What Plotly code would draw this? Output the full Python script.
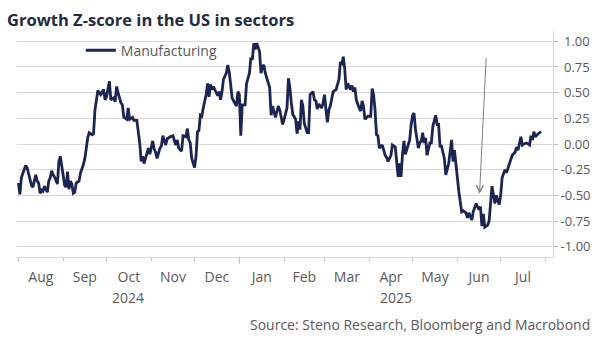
import pandas as pd
import plotly.graph_objects as go

# Manufacturing growth Z-score, US (daily observations)
dates = [
    "2024-08-01", "2024-08-02", "2024-08-03", "2024-08-06", "2024-08-07", "2024-08-09",
    "2024-08-10", "2024-08-11", "2024-08-13", "2024-08-14", "2024-08-15", "2024-08-16",
    "2024-08-17", "2024-08-18", "2024-08-19", "2024-08-21", "2024-08-22", "2024-08-23",
    "2024-08-24", "2024-08-25", "2024-08-26", "2024-08-28", "2024-08-29", "2024-08-30",
    "2024-08-31", "2024-09-02", "2024-09-03", "2024-09-04", "2024-09-05", "2024-09-06",
    "2024-09-07", "2024-09-08", "2024-09-09", "2024-09-10", "2024-09-12", "2024-09-13",
    "2024-09-15", "2024-09-16", "2024-09-18", "2024-09-19", "2024-09-21", "2024-09-22",
    "2024-09-23", "2024-09-25", "2024-09-26", "2024-09-27", "2024-09-29", "2024-09-30",
    "2024-10-01", "2024-10-03", "2024-10-04", "2024-10-06", "2024-10-07", "2024-10-08",
    "2024-10-09", "2024-10-11", "2024-10-12", "2024-10-13", "2024-10-15", "2024-10-16",
    "2024-10-17", "2024-10-19", "2024-10-20", "2024-10-22", "2024-10-24", "2024-10-25",
    "2024-10-26", "2024-10-27", "2024-10-28", "2024-10-30", "2024-10-31", "2024-11-02",
    "2024-11-03", "2024-11-04", "2024-11-05", "2024-11-07", "2024-11-08", "2024-11-09",
    "2024-11-11", "2024-11-12", "2024-11-14", "2024-11-16", "2024-11-18", "2024-11-19",
    "2024-11-20", "2024-11-22", "2024-11-23", "2024-11-25", "2024-11-26", "2024-11-27",
    "2024-11-28", "2024-11-29", "2024-12-01", "2024-12-02", "2024-12-03", "2024-12-04",
    "2024-12-05", "2024-12-06", "2024-12-07", "2024-12-09", "2024-12-10", "2024-12-11",
    "2024-12-12", "2024-12-13", "2024-12-14", "2024-12-16", "2024-12-17", "2024-12-18",
    "2024-12-19", "2024-12-20", "2024-12-21", "2024-12-23", "2024-12-24", "2024-12-25",
    "2024-12-27", "2024-12-28", "2024-12-30", "2024-12-31", "2025-01-01", "2025-01-02",
    "2025-01-03", "2025-01-05", "2025-01-06", "2025-01-08", "2025-01-09", "2025-01-10",
    "2025-01-11", "2025-01-12", "2025-01-13", "2025-01-15", "2025-01-16", "2025-01-17",
    "2025-01-18", "2025-01-19", "2025-01-20", "2025-01-22", "2025-01-23", "2025-01-24",
    "2025-01-26", "2025-01-27", "2025-01-28", "2025-01-29", "2025-01-31", "2025-02-01",
    "2025-02-03", "2025-02-04", "2025-02-05", "2025-02-06", "2025-02-07", "2025-02-09",
    "2025-02-10", "2025-02-11", "2025-02-12", "2025-02-13", "2025-02-14", "2025-02-15",
    "2025-02-17", "2025-02-18", "2025-02-19", "2025-02-21", "2025-02-22", "2025-02-23",
    "2025-02-24", "2025-02-25", "2025-02-27", "2025-02-28", "2025-03-01", "2025-03-02",
    "2025-03-03", "2025-03-04", "2025-03-05", "2025-03-07", "2025-03-09", "2025-03-11",
    "2025-03-12", "2025-03-13", "2025-03-14", "2025-03-15", "2025-03-16", "2025-03-17",
    "2025-03-19", "2025-03-20", "2025-03-21", "2025-03-22", "2025-03-23", "2025-03-25",
    "2025-03-26", "2025-03-27", "2025-03-28", "2025-03-29", "2025-03-31", "2025-04-02",
    "2025-04-03", "2025-04-04", "2025-04-05", "2025-04-06", "2025-04-07", "2025-04-08",
    "2025-04-10", "2025-04-11", "2025-04-12", "2025-04-13", "2025-04-14", "2025-04-16",
    "2025-04-17", "2025-04-19", "2025-04-20", "2025-04-21", "2025-04-22", "2025-04-23",
    "2025-04-24", "2025-04-25", "2025-04-26", "2025-04-28", "2025-04-29", "2025-04-30",
    "2025-05-01", "2025-05-02", "2025-05-03", "2025-05-05", "2025-05-06", "2025-05-07",
    "2025-05-08", "2025-05-09", "2025-05-10", "2025-05-11", "2025-05-13", "2025-05-14",
    "2025-05-15", "2025-05-17", "2025-05-18", "2025-05-19", "2025-05-20", "2025-05-21",
    "2025-05-23", "2025-05-24", "2025-05-26", "2025-05-28", "2025-05-29", "2025-05-30",
    "2025-05-31", "2025-06-01", "2025-06-02", "2025-06-04", "2025-06-05", "2025-06-07",
    "2025-06-08", "2025-06-09", "2025-06-11", "2025-06-12", "2025-06-13", "2025-06-14",
    "2025-06-16", "2025-06-17", "2025-06-18", "2025-06-19", "2025-06-20", "2025-06-22",
    "2025-06-23", "2025-06-24", "2025-06-25", "2025-06-27", "2025-06-28", "2025-06-30",
    "2025-07-01", "2025-07-02", "2025-07-04", "2025-07-05", "2025-07-07", "2025-07-09",
    "2025-07-11", "2025-07-12", "2025-07-13", "2025-07-15", "2025-07-16", "2025-07-17",
    "2025-07-19", "2025-07-21", "2025-07-22", "2025-07-23", "2025-07-24", "2025-07-25",
    "2025-07-27", "2025-07-29",
]

manufacturing = [
    -0.38, -0.49, -0.33, -0.21, -0.23, -0.36,
    -0.40, -0.42, -0.30, -0.36, -0.38, -0.48,
    -0.45, -0.46, -0.41, -0.47, -0.36, -0.33,
    -0.26, -0.30, -0.32, -0.39, -0.17, -0.12,
    -0.22, -0.40, -0.42, -0.27, -0.44, -0.36,
    -0.39, -0.48, -0.47, -0.38, -0.36, -0.28,
    -0.20, -0.14, 0.06, 0.11, 0.09, 0.10,
    0.33, 0.52, 0.50, 0.48, 0.53, 0.43,
    0.46, 0.61, 0.43, 0.45, 0.41, 0.56,
    0.50, 0.40, 0.38, 0.26, 0.24, 0.35,
    0.24, 0.26, 0.23, 0.23, 0.01, -0.17,
    -0.12, -0.19, -0.14, -0.04, -0.10, 0.03,
    -0.05, -0.08, -0.14, -0.04, -0.02, 0.08,
    -0.01, 0.05, 0.07, 0.08, -0.01, 0.04,
    -0.04, -0.07, 0.08, 0.07, 0.15, 0.04,
    0.01, -0.14, -0.23, -0.12, 0.12, 0.13,
    0.28, 0.27, 0.35, 0.48, 0.59, 0.46,
    0.58, 0.53, 0.56, 0.50, 0.47, 0.51,
    0.43, 0.51, 0.63, 0.69, 0.77, 0.70,
    0.45, 0.42, 0.37, 0.51, 0.48, 0.08,
    0.38, 0.38, 0.59, 0.69, 0.84, 0.82,
    0.98, 0.92, 0.98, 0.90, 0.69, 0.75,
    0.77, 0.69, 0.64, 0.55, 0.28, 0.37,
    0.26, 0.33, 0.37, 0.33, 0.19, 0.24,
    0.35, 0.64, 0.55, 0.40, 0.29, 0.24,
    0.10, 0.22, 0.14, 0.43, 0.37, 0.20,
    0.11, 0.11, 0.48, 0.51, 0.43, 0.42,
    0.34, 0.39, 0.35, 0.40, 0.48, 0.33,
    0.21, 0.33, 0.37, 0.51, 0.53, 0.63,
    0.80, 0.77, 0.85, 0.73, 0.53, 0.59,
    0.53, 0.57, 0.51, 0.55, 0.43, 0.35,
    0.32, 0.42, 0.37, 0.24, 0.27, 0.27,
    0.54, 0.48, 0.33, 0.09, 0.08, -0.04,
    -0.01, -0.06, -0.11, -0.13, -0.17, -0.11,
    -0.01, -0.03, -0.15, -0.32, -0.19, -0.32,
    -0.10, 0.03, -0.10, -0.01, 0.04, 0.19,
    0.28, 0.30, 0.14, -0.04, 0.01, 0.03,
    0.11, 0.01, 0.06, -0.11, 0.01, 0.01,
    0.17, 0.28, 0.19, 0.19, -0.02, -0.02,
    -0.14, -0.30, -0.19, 0.04, -0.17, -0.06,
    -0.22, -0.32, -0.46, -0.66, -0.65, -0.67,
    -0.72, -0.67, -0.74, -0.66, -0.62, -0.58,
    -0.64, -0.61, -0.80, -0.68, -0.81, -0.79,
    -0.75, -0.57, -0.41, -0.58, -0.50, -0.59,
    -0.50, -0.33, -0.25, -0.28, -0.19, -0.11,
    -0.08, -0.03, -0.06, 0.07, -0.01, 0.00,
    0.01, -0.01, 0.08, 0.04, 0.12, 0.07,
    0.10, 0.12,
]

y_tick_values = [-1.0, -0.75, -0.5, -0.25, 0.0, 0.25, 0.5, 0.75, 1.0]
y_tick_labels = [("" if v < 0 else "\u00a0") + f"{v:.2f}" for v in y_tick_values]

x_start = pd.Timestamp("2024-07-31")
x_end = pd.Timestamp("2025-08-06 06:00")
year_break = pd.Timestamp("2025-01-01")
year_labels = ["2024", "2025"]
year_centres = [x_start + (year_break - x_start) / 2, year_break + (x_end - year_break) / 2]

# arrow pointing at the June trough
arrow_tip = ("2025-06-16 09:00", -0.484)
arrow_tail = ("2025-06-21", 0.853)

NAVY = "#1c2551"
GREY_TEXT = "#595959"
GRID = "#d9d9d9"
FONT = "Open Sans"

fig = go.Figure()
fig.add_trace(go.Scatter(
    x=dates, y=manufacturing, mode="lines", name="Manufacturing",
    line=dict(color=NAVY, width=2.8),
))

fig.update_layout(
    width=602, height=344,
    margin=dict(l=17, r=49, t=31, b=87),
    paper_bgcolor="white", plot_bgcolor="white",
    font=dict(family=FONT, color=GREY_TEXT, size=13),
    title=dict(
        text="<b>Growth Z-score in the US in sectors</b>",
        font=dict(family=FONT, size=16.5, color="#1f2a44"),
        x=7 / 602, xanchor="left", xref="container",
        y=1 - 20 / 344, yanchor="middle", yref="container",
    ),
    showlegend=True,
    legend=dict(
        x=0.119, y=0.913, xanchor="left", yanchor="middle",
        bgcolor="rgba(0,0,0,0)", font=dict(size=14, color=GREY_TEXT),
        itemwidth=30,
    ),
    xaxis=dict(
        type="date", range=[x_start, x_end],
        dtick="M1", tick0="2024-08-01", ticklabelmode="period", tickformat="%b",
        ticks="outside", ticklen=3, tickcolor="#bfbfbf",
        showline=True, linecolor=GRID, linewidth=1,
        showgrid=False, zeroline=False, ticklabelstandoff=4,
        tickfont=dict(size=14, color=GREY_TEXT),
    ),
    yaxis=dict(
        side="right", range=[-1.1, 1.1],
        tickmode="array", tickvals=y_tick_values, ticktext=y_tick_labels,
        ticks="outside", ticklen=4, tickcolor="#bfbfbf",
        showline=True, linecolor=GRID, linewidth=1,
        showgrid=True, gridcolor=GRID, gridwidth=1, zeroline=False,
        tickfont=dict(size=13, color=GREY_TEXT),
    ),
)

# longer tick marking the turn of the year
fig.add_shape(
    type="line", xref="x", yref="paper",
    x0=year_break, x1=year_break, y0=0, y1=-7 / 226,
    line=dict(color="#bfbfbf", width=1),
)

for label, centre in zip(year_labels, year_centres):
    fig.add_annotation(
        x=centre, xref="x", y=-0.18, yref="paper",
        text=label, showarrow=False, xanchor="center", yanchor="middle",
        font=dict(size=14, color=GREY_TEXT),
    )

fig.add_annotation(
    x=arrow_tip[0], y=arrow_tip[1], ax=arrow_tail[0], ay=arrow_tail[1],
    xref="x", yref="y", axref="x", ayref="y",
    showarrow=True, arrowhead=5, arrowsize=1.4, arrowwidth=1,
    arrowcolor="#7f7f7f", standoff=0, text="",
)

fig.add_annotation(
    x=(592 - 17) / 536, xref="paper", y=-0.3, yref="paper",
    text="Source: Steno Research, Bloomberg and Macrobond",
    showarrow=False, xanchor="right", yanchor="middle",
    font=dict(size=14, color=GREY_TEXT),
)

fig.write_html("out.html")
